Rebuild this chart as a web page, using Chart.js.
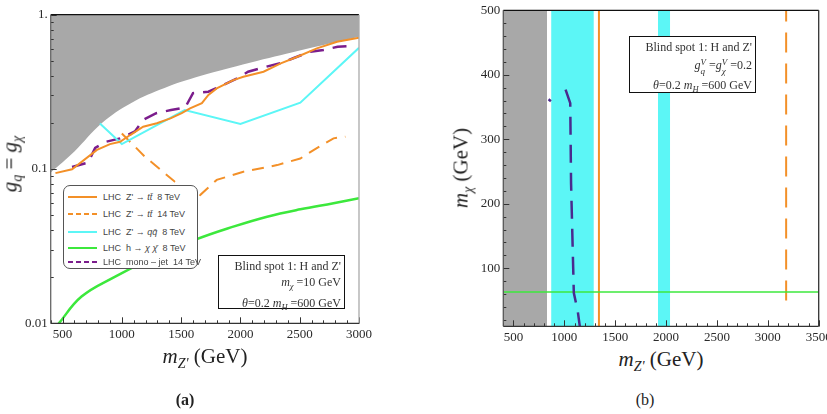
<!DOCTYPE html>
<html>
<head>
<meta charset="utf-8">
<script src="https://cdn.jsdelivr.net/npm/chart.js@4.4.1/dist/chart.umd.min.js"></script>
<style>
  body { margin:0; background:#fff; width:827px; height:414px; position:relative; overflow:hidden;
         font-family:"Liberation Serif", "DejaVu Serif", serif; color:#222; }
  canvas { position:absolute; }
  #chartA { left:0; top:0; }
  #chartB { left:430px; top:0; }
  .txt { position:absolute; white-space:nowrap; line-height:1; }
  .ctr { transform:translate(-50%,-50%); }
  .rot { transform:translate(-50%,-50%) rotate(-90deg); }
  .title { font-size:21px; color:#222; }
  .title sub { font-size:14px; vertical-align:-5px; }
  .cap { font-size:16px; }
  .box { position:absolute; border:1.5px solid #111; background:#fff; box-sizing:border-box;
         font-size:12px; color:#333; text-align:right; white-space:nowrap; }
  .box sub { font-size:8.5px; vertical-align:-3px; }
  .ss { display:inline-block; vertical-align:-5px; line-height:9px; font-size:9px; text-align:left; }
  .ss span { display:block; }
  .legend { position:absolute; left:63px; top:185px; width:135px; height:84px; box-sizing:border-box;
            border:1px solid #555; border-radius:7px; background:#fff;
            font-family:"Liberation Sans", Arial, sans-serif; font-size:9px; color:#444; }
  .legend .row { position:absolute; left:4px; height:12px; transform:translateY(-50%); white-space:nowrap; }
  .legend svg { position:absolute; left:0; top:4px; }
  .legend span { position:absolute; left:35px; top:1px; }
</style>
</head>
<body>
<canvas id="chartA" width="400" height="345"></canvas>
<canvas id="chartB" width="397" height="345"></canvas>

<!-- panel (a) texts -->
<div class="txt title rot" style="left:12px; top:164px;"><i>g</i><sub><i>q</i></sub> = <i>g</i><sub><i>χ</i></sub></div>
<div class="txt title ctr" style="left:205px; top:358px;"><i>m</i><sub><i>Z'</i></sub> (GeV)</div>
<div class="txt cap ctr" style="left:185px; top:400px; font-weight:bold;">(a)</div>

<div class="legend">
  <div class="row" style="top:11px;"><svg width="30" height="4"><line x1="0" y1="2" x2="29" y2="2" stroke="#f39028" stroke-width="2"/></svg><span>LHC&nbsp; Z' → <i>t</i><i>t̄</i>&nbsp; 8 TeV</span></div>
  <div class="row" style="top:28px;"><svg width="30" height="4"><line x1="0" y1="2" x2="29" y2="2" stroke="#f39028" stroke-width="2" stroke-dasharray="5,3"/></svg><span>LHC&nbsp; Z' → <i>t</i><i>t̄</i>&nbsp; 14 TeV</span></div>
  <div class="row" style="top:45.5px;"><svg width="30" height="4"><line x1="0" y1="2" x2="29" y2="2" stroke="#5cf6f6" stroke-width="2"/></svg><span>LHC&nbsp; Z' → <i>q</i><i>q̄</i>&nbsp; 8 TeV</span></div>
  <div class="row" style="top:61.5px;"><svg width="30" height="4"><line x1="0" y1="2" x2="29" y2="2" stroke="#3ce83c" stroke-width="2"/></svg><span>LHC&nbsp; h → <i>χ</i> <i>χ̄</i>&nbsp; 8 TeV</span></div>
  <div class="row" style="top:75.5px;"><svg width="30" height="4"><line x1="0" y1="2" x2="29" y2="2" stroke="#7b1d8c" stroke-width="2" stroke-dasharray="5,3"/></svg><span>LHC&nbsp; mono – jet&nbsp; 14 TeV</span></div>
</div>

<div class="box" style="left:218px; top:255px; width:127px; height:54px; padding:2px 3px 0 0; line-height:16.3px;">
  Blind spot 1: H and Z'<br>
  <i>m</i><sub><i>χ</i></sub> =10 GeV<br>
  <i>θ</i>=0.2 <i>m</i><sub><i>H</i></sub> =600 GeV
</div>

<!-- panel (b) texts -->
<div class="txt title rot" style="left:463px; top:168px;"><i>m</i><sub><i>χ</i></sub> (GeV)</div>
<div class="txt title ctr" style="left:661px; top:361px;"><i>m</i><sub><i>Z'</i></sub> (GeV)</div>
<div class="txt cap ctr" style="left:645px; top:400px;">(b)</div>

<div class="box" style="left:629px; top:36px; width:127px; height:57px; padding:1px 3px 0 0; line-height:18px;">
  Blind spot 1: H and Z'<br>
  <i>g</i><span class="ss"><span><i>V</i></span><span><i>q</i></span></span> =<i>g</i><span class="ss"><span><i>V</i></span><span><i>χ</i></span></span> =0.2<br>
  <i>θ</i>=0.2 <i>m</i><sub><i>H</i></sub> =600 GeV
</div>

<script>
// ---------- panel (a): coupling limits vs m_Z' (mχ = 10 GeV) ----------
const exclMass = [400, 600, 830, 1080, 1360, 1660, 2080, 2500, 3000];
const exclCoupling = [0.095, 0.13, 0.198, 0.268, 0.335, 0.40, 0.488, 0.586, 0.72];

const ttbar8Mass = [440, 580, 790, 900, 985, 1070, 1180, 1295, 1410, 1505, 1575, 1675, 1730, 1800, 1940, 2025, 2195, 2340, 2480, 2645, 2815, 3000];
const ttbar8Coupling = [0.094, 0.0996, 0.133, 0.145, 0.150, 0.166, 0.188, 0.198, 0.213, 0.230, 0.247, 0.267, 0.302, 0.333, 0.377, 0.396, 0.427, 0.484, 0.534, 0.605, 0.668, 0.71];

const ttbar14Mass = [1000, 1195, 1445, 1590, 1660, 1800, 2025, 2310, 2505, 2620, 2785, 2885];
const ttbar14Coupling = [0.170, 0.120, 0.083, 0.0696, 0.0678, 0.085, 0.096, 0.106, 0.117, 0.133, 0.158, 0.162];

const qqMass = [815, 1000, 1530, 2000, 2505, 3000];
const qqCoupling = [0.197, 0.145, 0.241, 0.196, 0.269, 0.61];

const higgsMass = [460, 660, 940, 1220, 1615, 1940, 2225, 2505, 2785, 3000];
const higgsCoupling = [0.0098, 0.0149, 0.0200, 0.0257, 0.0347, 0.0423, 0.0491, 0.0548, 0.0600, 0.0646];

const monojetMass = [580, 715, 775, 865, 985, 1110, 1180, 1290, 1415, 1535, 1600, 1730, 1915, 1975, 2065, 2195, 2335, 2445, 2590, 2700, 2820, 2955];
const monojetCoupling = [0.103, 0.110, 0.137, 0.150, 0.158, 0.175, 0.208, 0.230, 0.241, 0.251, 0.310, 0.317, 0.368, 0.387, 0.427, 0.456, 0.484, 0.522, 0.576, 0.590, 0.620, 0.627];

const massTicksA = [500, 1000, 1500, 2000, 2500, 3000];
const couplingTicks = [0.01, 0.1, 1];
const couplingTickLabels = ['0.01', '0.1', '1.'];

// ---------- panel (b): mχ vs m_Z' (gq = gχ = 0.2) ----------
const bandGrayMass = [400, 830];
const bandCyanMassA = [870, 1290];
const bandCyanMassB = [1920, 2040];
const bandTop = [500, 500];
const ttbar8LineMass = [1340, 1340];
const ttbar8LineMchi = [10, 500];
const ttbar14LineMass = [3180, 3180];
const ttbar14LineMchi = [50, 500];
const higgsLineMass = [400, 3500];
const higgsLineMchi = [63, 63];
const monojetStubMass = [845, 868];
const monojetStubMchi = [362, 359];
const monojetCurveMass = [1012, 1058, 1066, 1093, 1132, 1152];
const monojetCurveMchi = [377, 356, 232, 62, 33, 10];

const massTicksB = [500, 1000, 1500, 2000, 2500, 3000, 3500];
const mchiTicks = [100, 200, 300, 400, 500];

const GRAY = '#a8a8a8', CYAN = '#5cf6f6', ORANGE = '#f39028', GREEN = '#3ce83c';
const PURPLE_A = '#7b1d8c', PURPLE_B = '#4a2a8e';
const SERIF = '"Liberation Serif", "DejaVu Serif", serif';

function pts(xs, ys) {
  return xs.map((x, i) => ({x: x, y: ys[i]}));
}
function range(a, b, step) {
  const out = [];
  for (let v = a; v <= b + 1e-9; v += step) out.push(v);
  return out;
}

// frame + inward tick marks, Mathematica style
const frameTicks = {
  id: 'frameTicks',
  afterDatasetsDraw(chart, args, o) {
    const ctx = chart.ctx, a = chart.chartArea, x = chart.scales.x, y = chart.scales.y;
    ctx.save();
    ctx.lineWidth = 1;
    ctx.strokeStyle = '#333';
    ctx.beginPath();
    o.xMinor.forEach(v => { const p = Math.round(x.getPixelForValue(v)) + 0.5; ctx.moveTo(p, a.bottom); ctx.lineTo(p, a.bottom - 3); });
    o.xMajor.forEach(v => { const p = Math.round(x.getPixelForValue(v)) + 0.5; ctx.moveTo(p, a.bottom); ctx.lineTo(p, a.bottom - 6); });
    o.yMinor.forEach(v => { const p = Math.round(y.getPixelForValue(v)) + 0.5; ctx.moveTo(a.left, p); ctx.lineTo(a.left + 3, p); });
    o.yMajor.forEach(v => { const p = Math.round(y.getPixelForValue(v)) + 0.5; ctx.moveTo(a.left, p); ctx.lineTo(a.left + 6, p); });
    ctx.stroke();
    ctx.lineWidth = 1.3;
    const side = (c, x1, y1, x2, y2) => { ctx.strokeStyle = c; ctx.beginPath(); ctx.moveTo(x1, y1); ctx.lineTo(x2, y2); ctx.stroke(); };
    side(o.top, a.left, a.top, a.right, a.top);
    side(o.right, a.right, a.top, a.right, a.bottom);
    side(o.bottom, a.left, a.bottom, a.right, a.bottom);
    side(o.left, a.left, a.top, a.left, a.bottom);
    ctx.restore();
  }
};

function axisBase(ticksList, labels) {
  return {
    grid: {display: false, drawTicks: false},
    border: {display: false},
    ticks: {
      font: {family: SERIF, size: 13}, color: '#2a2a2a', padding: 3, autoSkip: false, maxRotation: 0,
      callback: (v, i) => labels ? labels[i] : String(v)
    },
    afterBuildTicks: s => { s.ticks = ticksList.map(v => ({value: v})); }
  };
}

const logMinor = [];
[0.01, 0.1].forEach(d => { for (let k = 2; k <= 9; k++) logMinor.push(d * k); });

new Chart(document.getElementById('chartA'), {
  type: 'line',
  data: {
    datasets: [
      {label: "LHC Z' → tt̄ 8TeV", data: pts(ttbar8Mass, ttbar8Coupling), borderColor: ORANGE, borderWidth: 2, fill: false},
      {label: "LHC Z' → qq̄ 8TeV", data: pts(qqMass, qqCoupling), borderColor: CYAN, borderWidth: 2, fill: false},
      {label: 'LHC mono-jet 14TeV', data: pts(monojetMass, monojetCoupling), borderColor: PURPLE_A, borderWidth: 2.5, borderDash: [14, 9], fill: false},
      {label: "LHC Z' → tt̄ 14TeV", data: pts(ttbar14Mass, ttbar14Coupling), borderColor: ORANGE, borderWidth: 2, borderDash: [12, 8], fill: false},
      {label: 'LHC h → χχ̄ 8TeV', data: pts(higgsMass, higgsCoupling), borderColor: GREEN, borderWidth: 2.5, fill: false, tension: 0.4},
      {label: 'excluded', data: pts(exclMass, exclCoupling), borderWidth: 0, borderColor: GRAY, backgroundColor: GRAY, fill: 'end', tension: 0.4, order: 10}
    ]
  },
  options: {
    responsive: false,
    animation: false,
    layout: {padding: {left: 0, top: 14.7, right: 41, bottom: 1.7}},
    elements: {point: {radius: 0}, line: {tension: 0}},
    plugins: {
      legend: {display: false},
      tooltip: {enabled: false},
      frameTicks: {
        xMajor: massTicksA, xMinor: range(400, 3000, 100),
        yMajor: couplingTicks, yMinor: logMinor,
        top: '#111', right: '#aaa', bottom: '#333', left: '#666'
      }
    },
    scales: {
      x: Object.assign(axisBase(massTicksA), {
        type: 'linear', min: 400, max: 3000,
        afterFit: s => { s.height = 20; s.paddingLeft = 0; s.paddingRight = 0; }
      }),
      y: Object.assign(axisBase(couplingTicks, couplingTickLabels), {
        type: 'logarithmic', min: 0.01, max: 1,
        afterFit: s => { s.width = 50.7; s.paddingTop = 0; s.paddingBottom = 0; }
      })
    }
  },
  plugins: [frameTicks]
});

new Chart(document.getElementById('chartB'), {
  type: 'line',
  data: {
    datasets: [
      {label: 'mono-jet', data: pts(monojetCurveMass, monojetCurveMchi), borderColor: PURPLE_B, borderWidth: 2.5, borderDash: [18, 10], fill: false},
      {label: 'mono-jet stub', data: pts(monojetStubMass, monojetStubMchi), borderColor: PURPLE_B, borderWidth: 2.5, fill: false},
      {label: 'h → χχ̄', data: pts(higgsLineMass, higgsLineMchi), borderColor: GREEN, borderWidth: 1.5, fill: false},
      {label: 'tt̄ 14TeV', data: pts(ttbar14LineMass, ttbar14LineMchi), borderColor: ORANGE, borderWidth: 2, borderDash: [20, 11], fill: false},
      {label: 'tt̄ 8TeV', data: pts(ttbar8LineMass, ttbar8LineMchi), borderColor: ORANGE, borderWidth: 2, fill: false},
      {label: 'qq̄ band 1', data: pts(bandCyanMassA, bandTop), borderWidth: 0, backgroundColor: CYAN, fill: 'start', order: 10},
      {label: 'qq̄ band 2', data: pts(bandCyanMassB, bandTop), borderWidth: 0, backgroundColor: CYAN, fill: 'start', order: 10},
      {label: 'excluded', data: pts(bandGrayMass, bandTop), borderWidth: 0, backgroundColor: GRAY, fill: 'start', order: 10}
    ]
  },
  options: {
    responsive: false,
    animation: false,
    layout: {padding: {left: 0, top: 10.3, right: 8.3, bottom: 0}},
    elements: {point: {radius: 0}, line: {tension: 0}},
    plugins: {
      legend: {display: false},
      tooltip: {enabled: false},
      frameTicks: {
        xMajor: massTicksB, xMinor: range(400, 3500, 100),
        yMajor: mchiTicks, yMinor: range(20, 480, 20),
        top: '#111', right: '#333', bottom: '#333', left: '#555'
      }
    },
    scales: {
      x: Object.assign(axisBase(massTicksB), {
        type: 'linear', min: 400, max: 3500,
        afterFit: s => { s.height = 18.7; s.paddingLeft = 0; s.paddingRight = 0; }
      }),
      y: Object.assign(axisBase(mchiTicks), {
        type: 'linear', min: 10, max: 500,
        afterFit: s => { s.width = 73.3; s.paddingTop = 0; s.paddingBottom = 0; }
      })
    }
  },
  plugins: [frameTicks]
});
</script>
</body>
</html>
